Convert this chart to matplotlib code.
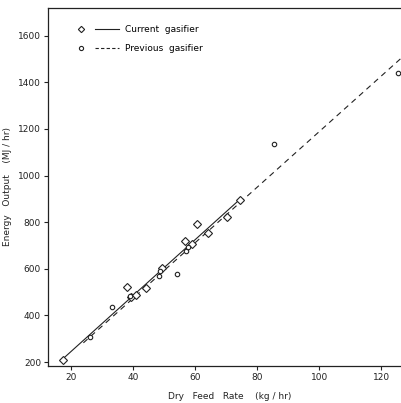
import matplotlib
matplotlib.use("Agg")
import matplotlib.pyplot as plt
import numpy as np
from matplotlib.lines import Line2D
from matplotlib.legend_handler import HandlerTuple

# Current gasifier (diamonds)
cur_x = [17.4, 38.1, 39.3, 41.0, 44.1, 49.2, 56.6, 58.9, 60.6, 64.0, 70.1, 74.5]
cur_y = [208, 522, 479, 487, 517, 602, 718, 705, 791, 755, 823, 897]
# Previous gasifier (circles)
prev_x = [26.1, 33.2, 39.0, 48.4, 48.8, 54.0, 56.9, 57.8, 85.4, 125.3]
prev_y = [307, 435, 482, 567, 590, 576, 676, 692, 1137, 1442]

# Fitted lines: slope, intercept, x-range
cur_fit = (12.0, 5.0)
cur_range = [17.5, 74.5]
prev_fit = (11.93, -4.0)
prev_range = [24.0, 126.4]

xticks = [20, 40, 60, 80, 100, 120]
yticks = [200, 400, 600, 800, 1000, 1200, 1400, 1600]

fig = plt.figure(figsize=(4.01, 4.03), dpi=100)
ax = fig.add_axes([0.1197, 0.0918, 0.905, 0.889])

fs = 6.5
ink = "#222222"
ax.plot(cur_x, cur_y, linestyle="none", marker="D", markersize=3.6,
        markerfacecolor="white", markeredgecolor=ink, markeredgewidth=0.8, zorder=3)
ax.plot(prev_x, prev_y, linestyle="none", marker="o", markersize=3.2,
        markerfacecolor="white", markeredgecolor=ink, markeredgewidth=0.8, zorder=3)

cx = np.array(cur_range)
ax.plot(cx, cur_fit[0] * cx + cur_fit[1], color=ink, lw=0.8, zorder=2)
px = np.array(prev_range)
ax.plot(px, prev_fit[0] * px + prev_fit[1], color=ink, lw=0.8,
        dashes=(5, 4), zorder=2)

ax.set_xlim(12.6, 129.5)
ax.set_ylim(183, 1720)
ax.set_xticks(xticks)
ax.set_yticks(yticks)
ax.tick_params(direction="out", length=3, width=0.8, labelsize=fs, colors=ink, pad=2)
for s in ["left", "bottom", "top"]:
    ax.spines[s].set_linewidth(0.9)
    ax.spines[s].set_color(ink)
ax.spines["right"].set_visible(False)

ax.set_xlabel("Dry   Feed   Rate    (kg / hr)", fontsize=fs, labelpad=7, color=ink)
ax.set_ylabel("Energy   Output    (MJ / hr)", fontsize=fs, labelpad=4, color=ink)

h_cur = (Line2D([], [], linestyle="none", marker="D", markersize=3.2, markerfacecolor="white",
                markeredgecolor=ink, markeredgewidth=0.8),
         Line2D([], [], color=ink, lw=0.8))
h_prev = (Line2D([], [], linestyle="none", marker="o", markersize=3.0, markerfacecolor="white",
                 markeredgecolor=ink, markeredgewidth=0.8),
          Line2D([], [], color=ink, lw=0.8, dashes=(3, 2)))
leg = ax.legend([h_cur, h_prev], ["Current  gasifier", "Previous  gasifier"],
                handler_map={tuple: HandlerTuple(ndivide=None, pad=0.3)},
                loc="upper left", bbox_to_anchor=(0.035, 0.975), frameon=False,
                fontsize=fs, handlelength=5.6, labelspacing=1.1, handletextpad=0.6)

fig.savefig("out.png", dpi=100, facecolor="white")
